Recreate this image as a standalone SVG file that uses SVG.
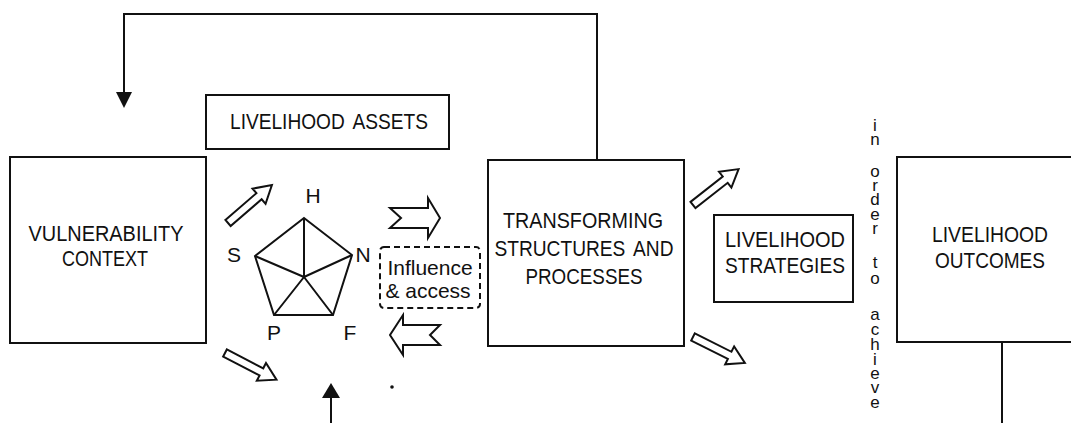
<svg xmlns="http://www.w3.org/2000/svg" xmlns:xlink="http://www.w3.org/1999/xlink" width="1071" height="423" viewBox="0 0 1071 423">
  <style>
    .box { fill: #fff; stroke: #111; stroke-width: 2; }
    .line { fill: none; stroke: #111; stroke-width: 2; }
    .hollow { fill: #fff; stroke: #111; stroke-width: 2; stroke-linejoin: miter; }
    .lbl { font-family: "Liberation Sans", Arial, sans-serif; font-size: 22px; fill: #111; text-anchor: middle; }
    .small { font-family: "Liberation Sans", Arial, sans-serif; font-size: 21px; fill: #111; text-anchor: middle; }
    .vert { font-family: "Liberation Sans", Arial, sans-serif; font-size: 17px; fill: #111; text-anchor: middle; }
    .head { fill: #111; stroke: none; }
  </style>
  <defs>
    <!-- thin outlined arrow pointing along +x, tail at origin -->
    <path id="thinArrow" d="M0,-4 H41 V-10 L58,0 L41,10 V4 H0 Z"/>
  </defs>
  <rect width="1071" height="423" fill="#fff"/>

  <!-- connectors -->
  <g id="connectors">
    <!-- feedback loop from transforming structures back to vulnerability -->
    <polyline class="line" points="597,160 597,14 124,14 124,94"/>
    <polygon class="head" points="116,92 132,92 124,108"/>
    <!-- upward arrow from below -->
    <line class="line" x1="331" y1="396" x2="331" y2="423"/>
    <polygon class="head" points="322,398 340,398 331,383"/>
    <!-- line down from outcomes -->
    <line class="line" x1="1002" y1="342" x2="1002" y2="423"/>
    <!-- thin outlined arrows -->
    <use href="#thinArrow" class="hollow" transform="translate(228,223) rotate(-40.8)"/>
    <use href="#thinArrow" class="hollow" transform="translate(225,353) rotate(27.4)"/>
    <use href="#thinArrow" class="hollow" transform="translate(693,205) rotate(-38.2)"/>
    <use href="#thinArrow" class="hollow" transform="translate(693,337) rotate(26.6)"/>
    <!-- notched block arrows around influence & access -->
    <polygon class="hollow" points="390,208 428,208 428,198 440,218 428,238 428,228 390,228 401,218"/>
    <polygon class="hollow" points="440,325 403,325 403,315 390,335 403,355 403,345 440,345 430,335"/>
  </g>

  <g id="vulnerability">
    <rect class="box" x="10" y="157" width="196" height="186"/>
    <text class="lbl" x="106" y="241" textLength="155" lengthAdjust="spacingAndGlyphs">VULNERABILITY</text>
    <text class="lbl" x="105" y="266" textLength="86" lengthAdjust="spacingAndGlyphs">CONTEXT</text>
  </g>

  <g id="assets-title">
    <rect class="box" x="206" y="95" width="243" height="54"/>
    <text class="lbl" x="329" y="129" textLength="198" lengthAdjust="spacingAndGlyphs" word-spacing="4">LIVELIHOOD ASSETS</text>
  </g>

  <g id="assets-pentagon">
    <polygon class="line" points="304,218 352,255 333,315 274,315 255,256"/>
    <path class="line" d="M304,277 L304,218 M304,277 L352,255 M304,277 L333,315 M304,277 L274,315 M304,277 L255,256"/>
    <text class="small" x="313" y="203">H</text>
    <text class="small" x="234" y="262">S</text>
    <text class="small" x="363" y="262">N</text>
    <text class="small" x="274" y="340">P</text>
    <text class="small" x="350" y="340">F</text>
  </g>

  <g id="influence">
    <rect x="380" y="247" width="100" height="61" rx="4" fill="none" stroke="#111" stroke-width="2" stroke-dasharray="6 4"/>
    <text class="small" x="430" y="275">Influence</text>
    <text class="small" x="428" y="298">&amp; access</text>
  </g>

  <circle cx="392" cy="387" r="1.8" fill="#111"/>

  <g id="transforming">
    <rect class="box" x="488" y="160" width="196" height="186"/>
    <text class="lbl" x="583" y="228" textLength="160" lengthAdjust="spacingAndGlyphs">TRANSFORMING</text>
    <text class="lbl" x="584" y="256" textLength="179" lengthAdjust="spacingAndGlyphs" word-spacing="4">STRUCTURES AND</text>
    <text class="lbl" x="584" y="284" textLength="117" lengthAdjust="spacingAndGlyphs">PROCESSES</text>
  </g>

  <g id="strategies">
    <rect class="box" x="714" y="215" width="139" height="87"/>
    <text class="lbl" x="785" y="247" textLength="120" lengthAdjust="spacingAndGlyphs">LIVELIHOOD</text>
    <text class="lbl" x="785" y="273" textLength="120" lengthAdjust="spacingAndGlyphs">STRATEGIES</text>
  </g>

  <g id="in-order-to-achieve">
    <text class="vert"><tspan x="875 875" y="131 145">in</tspan><tspan x="875 875 875 875 875" y="177 191 205 220 234">order</tspan><tspan x="875 875" y="268 284">to</tspan><tspan x="875 875 875 875 875 875 875" y="320 335 350 365 379 393 408">achieve</tspan></text>
  </g>

  <g id="outcomes">
    <rect class="box" x="897" y="157" width="200" height="185"/>
    <text class="lbl" x="990" y="242" textLength="116" lengthAdjust="spacingAndGlyphs">LIVELIHOOD</text>
    <text class="lbl" x="990" y="268" textLength="110" lengthAdjust="spacingAndGlyphs">OUTCOMES</text>
  </g>
</svg>
